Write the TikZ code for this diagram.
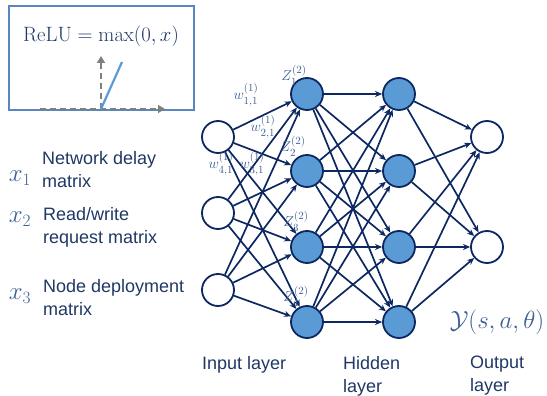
\documentclass[tikz,border=0pt]{standalone}
\usepackage[no-math]{fontspec}
\setmainfont{Liberation Sans}
\usepackage{amsmath}
\usetikzlibrary{arrows.meta}
\definecolor{navy}{HTML}{0D2861}
\definecolor{hidfill}{HTML}{5B9BD5}
\definecolor{txtnavy}{HTML}{1F3864}
\definecolor{lblblue}{HTML}{3A5F94}
\definecolor{boxblue}{HTML}{5A86BE}
\definecolor{dashgray}{HTML}{7F7F7F}
\definecolor{relublue}{HTML}{5B9BD5}
\begin{document}
\begin{tikzpicture}[x=1pt,y=-1pt,
  neuron/.style={circle,draw=navy,line width=1.8pt,minimum size=32pt,inner sep=0pt,fill=white},
  hidneuron/.style={neuron,fill=hidfill},
  conn/.style={draw=navy,line width=1.7pt,-{Stealth[length=7pt,width=6pt]}},
  wlabel/.style={text=lblblue,font=\fontsize{15}{17}\selectfont,inner sep=0pt},
  xlabel/.style={text=lblblue,font=\fontsize{26}{30}\selectfont,inner sep=0pt},
  desc/.style={text=txtnavy,font=\fontsize{18}{23}\selectfont,align=left,anchor=west,inner sep=0pt},
  layerlbl/.style={text=txtnavy,font=\fontsize{18}{23}\selectfont,align=left,anchor=north west,inner sep=0pt},
  dasharrow/.style={draw=dashgray,line width=2.2pt,dash pattern=on 6pt off 4pt,-{Triangle[length=7pt,width=8pt]}}
]
\useasboundingbox (0,0) rectangle (547,396);

% ReLU box
\node (relubox) [draw=boxblue,line width=1.3pt,minimum width=185pt,minimum height=104pt,inner sep=0pt] at (101.5,58) {};
\node (relutext) [text=txtnavy,font=\fontsize{20.5}{24}\selectfont,inner sep=0pt] at (101,36) {$\mathrm{ReLU}=\max(0,x)$};
\coordinate (ax0) at (40,109);
\coordinate (ax1) at (165,109);
\coordinate (org) at (101,109);
\coordinate (ay1) at (101,56);
\coordinate (rtop) at (122,62);
\draw[dasharrow] (ax0) -- (ax1);
\draw[dasharrow] (org) -- (ay1);
\draw[draw=relublue,line width=2.2pt] (org) -- (rtop);

% neurons
\node[neuron] (i1) at (218,137) {};
\node[neuron] (i2) at (218,213) {};
\node[neuron] (i3) at (218,290) {};
\foreach \k/\yy in {1/94,2/171,3/247,4/322}{
  \node[hidneuron] (h\k) at (307,\yy) {};
  \node[hidneuron] (g\k) at (399,\yy) {};
}
\node[neuron] (o1) at (487,137) {};
\node[neuron] (o2) at (487,247) {};

% connections
\foreach \a in {1,2,3}{\foreach \b in {1,2,3,4}{\draw[conn] (i\a) -- (h\b);}}
\foreach \a in {1,2,3,4}{\foreach \b in {1,2,3,4}{\draw[conn] (h\a) -- (g\b);}}
\foreach \a in {1,2,3,4}{\foreach \b in {1,2}{\draw[conn] (g\a) -- (o\b);}}

% weight labels
\node[wlabel] (w11) at (246,95) {$w_{1,1}^{(1)}$};
\node[wlabel] (w21) at (263,127) {$w_{2,1}^{(1)}$};
\node[wlabel] (w41) at (221,164) {$w_{4,1}^{(1)}$};
\node[wlabel] (w31) at (252,164) {$w_{3,1}^{(1)}$};
\node[wlabel] (z1) at (294,75) {$Z_{1}^{(2)}$};
\node[wlabel] (z2) at (293,146) {$Z_{2}^{(2)}$};
\node[wlabel] (z3) at (296,221) {$Z_{3}^{(2)}$};
\node[wlabel] (z4) at (296,296) {$Z_{4}^{(2)}$};

% inputs text
\node[xlabel] (x1) at (20,178) {$x_1$};
\node[desc] (d1) at (42,170) {Network delay\\matrix};
\node[xlabel] (x2) at (20,219) {$x_2$};
\node[desc] (d2) at (43,227) {Read/write\\request matrix};
\node[xlabel] (x3) at (20,296) {$x_3$};
\node[desc] (d3) at (43,298) {Node deployment\\matrix};

% output
\node[text=lblblue,font=\fontsize{24}{28}\selectfont,inner sep=0pt] (yout) at (497,322) {$\mathcal{Y}(s,a,\theta)$};

% layer labels
\node[layerlbl] (lin) at (202,356) {Input layer};
\node[layerlbl] (lhid) at (343,356) {Hidden\\layer};
\node[layerlbl] (lout) at (470,356) {Output\\layer};
\end{tikzpicture}
\end{document}
